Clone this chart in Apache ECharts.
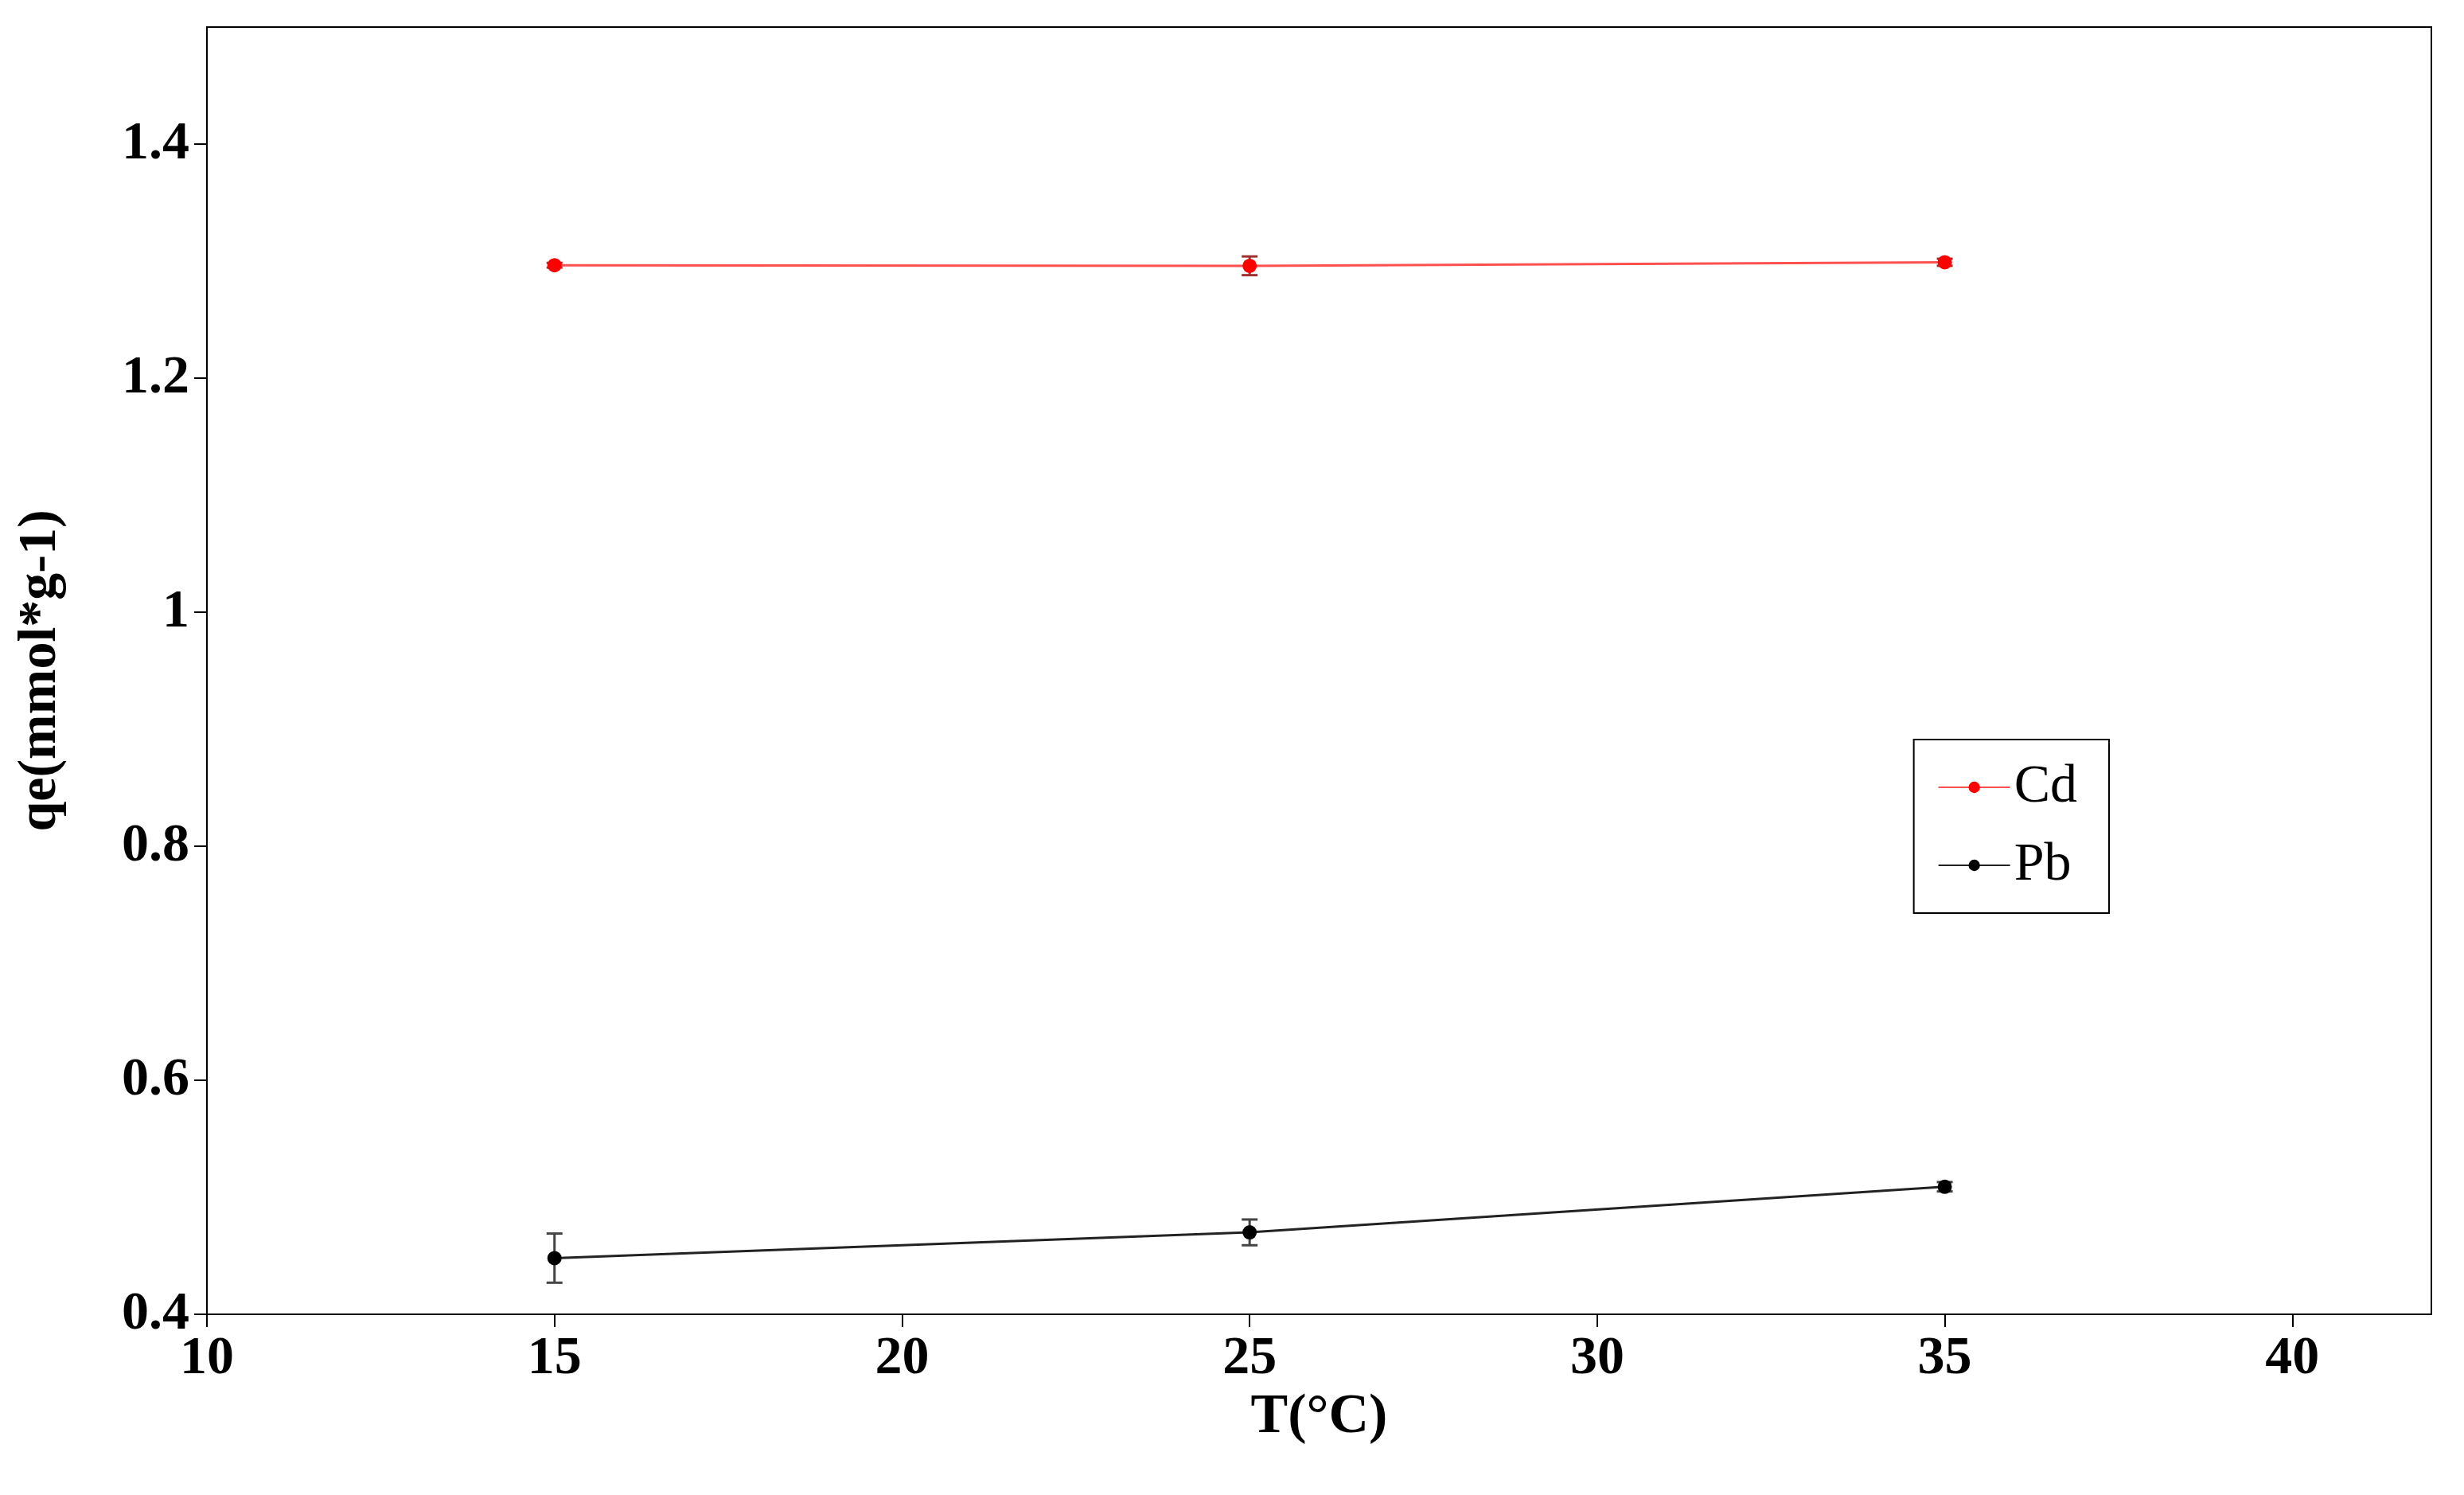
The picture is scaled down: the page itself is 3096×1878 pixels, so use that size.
<!doctype html>
<html>
<head>
<meta charset="utf-8">
<script src="https://cdn.jsdelivr.net/npm/echarts@6/dist/echarts.min.js"></script>
</head>
<body style="margin:0">
<div id="chart" style="width:3096px;height:1878px;"></div>
<script>
var temps = [15, 25, 35];
var cdVals = [1.2965, 1.296, 1.299];
var cdErr = [0.002, 0.008, 0.003];
var pbVals = [0.448, 0.470, 0.509];
var pbErr = [0.021, 0.011, 0.004];
var xTicks = [10, 15, 20, 25, 30, 35, 40];
var yTicks = [0.4, 0.6, 0.8, 1, 1.2, 1.4];
var font = 'Liberation Serif';

function errSeries(vals, errs, color) {
    return {
        type: 'custom',
        data: temps.map(function (t, i) { return [t, vals[i] - errs[i], vals[i] + errs[i]]; }),
        z: 3,
        renderItem: function (params, api) {
            var lo = api.coord([api.value(0), api.value(1)]);
            var hi = api.coord([api.value(0), api.value(2)]);
            var w = 10;
            var st = {stroke: color, lineWidth: 3};
            return {type: 'group', children: [
                {type: 'line', shape: {x1: lo[0], y1: lo[1], x2: hi[0], y2: hi[1]}, style: st},
                {type: 'line', shape: {x1: lo[0] - w, y1: lo[1], x2: lo[0] + w, y2: lo[1]}, style: st},
                {type: 'line', shape: {x1: hi[0] - w, y1: hi[1], x2: hi[0] + w, y2: hi[1]}, style: st}
            ]};
        }
    };
}

var myChart = echarts.init(document.getElementById('chart'));
var option = {
    backgroundColor: '#fff',
    grid: {left: 260, right: 41, top: 34, bottom: 227, show: true, borderColor: '#000', borderWidth: 2},
    legend: {
        right: 446, top: 929, orient: 'vertical',
        itemWidth: 90, itemHeight: 18, itemGap: 30,
        padding: [26, 40, 26, 30],
        borderColor: '#000', borderWidth: 2,
        textStyle: {fontFamily: font, fontSize: 68, color: '#000'},
        data: ['Cd', 'Pb']
    },
    xAxis: {
        type: 'value', min: 10, max: 42,
        name: 'T(°C)', nameLocation: 'middle', nameGap: 92,
        nameTextStyle: {fontFamily: font, fontSize: 70, fontWeight: 'bold', color: '#000'},
        axisLine: {onZero: false, lineStyle: {color: '#000', width: 2}},
        axisTick: {length: 16, lineStyle: {width: 2}, customValues: xTicks},
        axisLabel: {fontFamily: font, fontSize: 68, fontWeight: 'bold', color: '#000', margin: 22, customValues: xTicks},
        splitLine: {show: false}
    },
    yAxis: {
        type: 'value', min: 0.4, max: 1.5,
        name: 'qe(mmol*g-1)', nameLocation: 'middle', nameGap: 175,
        nameTextStyle: {fontFamily: font, fontSize: 68, fontWeight: 'bold', color: '#000'},
        axisLine: {lineStyle: {color: '#000', width: 2}},
        axisTick: {length: 16, lineStyle: {width: 2}, customValues: yTicks},
        axisLabel: {fontFamily: font, fontSize: 68, fontWeight: 'bold', color: '#000', margin: 22, customValues: yTicks,
            formatter: function (v) { return Math.abs(v - 1) < 1e-9 ? '1' : v.toFixed(1); }},
        splitLine: {show: false}
    },
    series: [
        {name: 'Cd', type: 'line', data: temps.map(function (t, i) { return [t, cdVals[i]]; }),
            color: '#ff0000', symbol: 'circle', symbolSize: 18, lineStyle: {width: 3, color: '#ff5050'}, z: 4},
        {name: 'Pb', type: 'line', data: temps.map(function (t, i) { return [t, pbVals[i]]; }),
            color: '#000', symbol: 'circle', symbolSize: 18, lineStyle: {width: 3, color: '#222'}, z: 4},
        errSeries(cdVals, cdErr, '#a03030'),
        errSeries(pbVals, pbErr, '#444')
    ]
};
myChart.setOption(option);
</script>
</body>
</html>
